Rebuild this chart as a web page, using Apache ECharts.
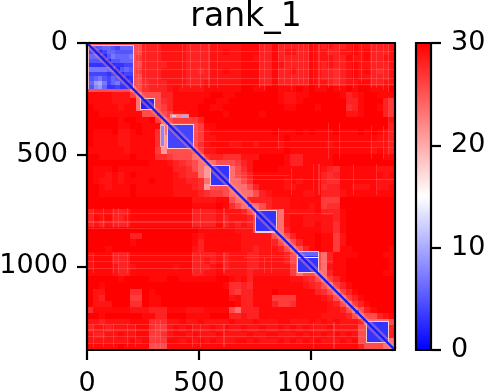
<!DOCTYPE html>
<html><head><meta charset="utf-8">
<style>html,body{margin:0;padding:0;background:#fff}#c{width:490px;height:392px}</style>
<script src="https://cdn.jsdelivr.net/npm/echarts@6/dist/echarts.min.js"></script>
</head><body><div id="c"></div>
<script>
const chartTitle = 'rank_1';
const residueCount = 1375;
const cellSize = 27.5;
const tickValues = [0, 500, 1000];
const colorbarTicks = [0, 10, 20, 30];
// Error read for each digit used in paeRows
const errorLevels = [30, 29.5, 28.8, 28, 27.3, 26.5, 25.5, 23.5, 21];
const paeRows = [
'66666 66663 33222 23333 22222 11133 13333 31232 33212 23332',
'66666 66663 33222 23333 22122 11133 13223 31223 32212 13332',
'66666 66653 33222 23333 22222 11233 13333 31222 33122 13322',
'66666 66663 33322 23333 22222 11133 12333 31232 33212 23332',
'66666 66653 33222 23343 22122 11133 13323 31233 43212 13432',
'66666 66663 33222 23333 22222 11133 13333 31233 43212 23332',
'66666 66664 33322 23332 22222 11133 13333 31223 43221 13322',
'66666 66764 33321 22221 11111 00110 01110 10110 11010 01110',
'11112 22576 66331 11111 00110 00000 01221 10000 01321 00111',
'11112 22176 66431 11110 01100 00000 01221 00000 00331 00035',
'01111 21176 66531 11100 11000 00000 00110 00100 00431 00135',
'00111 11116 66652 21100 00100 00010 00000 00000 00221 00035',
'00000 10011 05765 55530 00000 00000 00000 00000 00000 00002',
'00000 11001 11776 66651 10000 00000 00000 00000 00000 00003',
'01110 22101 14766 66652 11111 11111 01110 10111 01110 10123',
'01111 22111 14866 66652 21111 11111 11011 11111 11111 11223',
'01111 22111 14866 66642 11122 11211 12111 11112 11111 12223',
'11111 12111 15866 66652 21111 11111 11011 11111 11111 12123',
'00111 11011 14456 66774 33444 22200 00133 11111 00000 00011',
'00000 00000 11123 45677 76665 32000 00133 11111 00000 00000',
'01110 11111 11113 34678 66676 42000 01111 11123 41111 11222',
'01121 21011 11112 34478 66676 53111 11111 11134 31111 11121',
'01221 21111 01112 23347 66677 64111 11212 11134 41111 11222',
'00121 11011 11112 22348 66677 76311 11221 11143 31122 21221',
'00111 11011 11112 22234 55677 77632 11111 22133 32111 11111',
'00000 00000 00000 00222 21167 73333 22211 11155 50000 00000',
'00000 00000 00000 00111 10146 77763 22211 12154 40000 00000',
'32223 33111 11111 11333 32222 36766 67222 22133 31000 00000',
'31213 32111 11111 11333 32322 23666 67211 22222 31000 00000',
'32323 33111 11111 11333 31323 23666 67211 22122 41000 00000',
'00000 00000 00000 00011 11112 22666 67311 11122 41000 00000',
'00000 00330 00000 00121 11111 22222 67631 11011 52000 00000',
'00000 00100 00000 00131 11111 22222 36763 11011 52000 00000',
'00010 00000 00000 00231 11111 22322 23676 31011 51100 00001',
'21113 33111 11111 11333 32322 23322 22367 66673 11110 00011',
'21113 33111 11111 11332 32322 23322 22367 66673 11000 00001',
'21112 33211 11112 11333 21322 23322 22257 66672 11000 00001',
'11112 33111 11111 11332 21222 23222 22257 66773 11000 00011',
'00000 10000 11100 11111 10012 13111 11122 34675 31000 00000',
'00100 00000 00000 00000 00144 34111 11111 23467 53100 00000',
'02200 00440 10000 00000 00045 33111 01111 11346 75310 00000',
'02300 00550 11000 00000 00021 33111 55551 11123 67531 00000',
'02220 00440 11000 00000 00001 33111 35541 11112 36753 10000',
'41111 11222 33311 12221 11167 33311 11111 11112 23676 31000',
'00100 00001 13300 01111 00033 23311 11111 11122 22367 66321',
'22322 22111 44422 12212 22212 22122 21122 21212 12223 77776',
'32232 22211 45521 21222 12122 12212 21212 12221 22226 66663',
'23322 12211 55421 12122 21222 21221 12221 21212 12126 66663',
'22222 22121 55511 21212 12221 12122 21212 12122 21216 66667',
'11111 01111 66611 11111 11111 11111 11111 11111 11113 66677'
];
// Thin pale streaks: [column, rowFrom, rowTo]
const paleColumns = [
[229,0,200],[259,0,200],[311,0,200],[423,0,200],[460,0,200],[504,0,200],[542,0,200],[579,0,200],
[769,0,200],[789,0,210],[851,0,190],[881,0,190],[911,0,210],[940,0,190],[963,0,190],[985,0,190],[1007,0,190],
[1033,0,200],[1074,0,200],[1126,0,210],[1186,0,200],[1223,0,180],[1268,0,200],[1290,0,200],[1320,0,210],[1342,0,220],
[851,380,480],[1074,360,520],[1126,360,520],[1268,370,520],[1320,370,520],[1342,240,500],
[911,560,680],[1007,540,660],[1033,540,680],[1186,540,680],[1290,540,680],
[28,740,830],[73,740,830],[117,740,830],[140,740,830],[177,740,830],[467,740,830],[504,740,830],[609,740,830],
[28,940,1030],[117,940,1030],[140,940,1030],[177,940,1030],[467,940,1030],[504,940,1030],[609,940,1030],
[28,1260,1360],[73,1260,1360],[117,1260,1360],[177,1260,1360],[214,1260,1360],[303,1240,1370],[326,1240,1370],[467,1260,1360],[504,1260,1360],[609,1260,1360],
[820,760,1030],[790,960,1030],[1100,1250,1370],[1007,1250,1370]
];
// Thin pale streaks: [row, columnFrom, columnTo]
const paleRows = [
[36,220,1375],[80,220,1375],[118,220,1375],[155,220,1375],[185,220,1375],
[393,480,1375],[437,480,1375],[467,480,1375],[610,640,1375],[590,650,900],
[762,0,740],[799,0,740],[829,0,740],[948,0,930],[978,0,930],[1007,0,930],
[1260,0,1240],[1283,0,1240],[1312,0,1240],[1342,0,1240],[762,860,1100],[975,1040,1100],[960,700,930]
];
// Pale rims, then the low-error domains: [fromX, toX, fromY, toY, error]
const domainRims = [
[5,209,7,205,18],[235,305,245,300,18],[355,478,361,474,18],[548,639,548,639,18],
[749,849,749,849,18],[937,1036,933,1032,18],[1245,1349,1245,1345,18],
[325,347,365,466,20],[370,455,318,336,22]
];
const domains = [
[240,300,250,295,2],[360,473,366,469,4],[553,634,553,634,3],
[754,844,754,844,3],[942,1031,938,1027,3],[1250,1344,1250,1340,3],
[330,342,372,460,8],[378,398,322,332,12],[425,450,322,332,10],
[942,1031,960,964,14],[942,1031,938,956,6],
[314,328,314,328,2],[720,735,720,735,3],[1197,1214,1197,1214,2]
];
// First domain is mottled, read on its own finer grid
const firstDomainRows = [
[5,4,5,6,6,5,4,6,6,6],
[4,4,2,4,6,6,5,5,5,5],
[6,6,5,2,5,7,6,6,6,7],
[5,5,5,4,2,5,5,6,6,6],
[3,3,3,3,3,2,3,3,4,4],
[7,7,7,7,6,6,2,5,6,5],
[4,4,4,4,3,4,3,2,4,4],
[5,6,7,5,4,6,5,4,2,3],
[6,9,10,7,4,6,7,4,3,2],
[5,8,9,6,3,3,4,3,3,2]
];
const firstDomainStart = [10, 12];
const firstDomainCell = 19.5;
const diagonal = [[0,0],[residueCount,residueCount]];

const cells = [];
paeRows.forEach((row,r)=>{
  row.replace(/ /g,'').split('').forEach((d,c)=>{
    cells.push([c*cellSize,(c+1)*cellSize,r*cellSize,(r+1)*cellSize,errorLevels[Number(d)]]);
  });
});
const streaks = [
  ...paleColumns.map(s=>[s[0],s[0]+5,s[1],s[2],22]),
  ...paleRows.map(s=>[s[1],s[2],s[0],s[0]+5,22])
];
const firstCells = [];
firstDomainRows.forEach((row,r)=>row.forEach((v,c)=>{
  firstCells.push([firstDomainStart[0]+c*firstDomainCell,firstDomainStart[0]+(c+1)*firstDomainCell,
                   firstDomainStart[1]+r*firstDomainCell,firstDomainStart[1]+(r+1)*firstDomainCell,v]);
}));
function painter(opacity){
  return function(p,api){
    const a=api.coord([api.value(0),api.value(2)]), b=api.coord([api.value(1),api.value(3)]);
    const x0=Math.round(Math.min(a[0],b[0])),x1=Math.round(Math.max(a[0],b[0]));
    const y0=Math.round(Math.min(a[1],b[1])),y1=Math.round(Math.max(a[1],b[1]));
    return {type:'rect',shape:{x:x0,y:y0,width:Math.max(1,x1-x0),height:Math.max(1,y1-y0)},
      style:{fill:api.visual('color'),opacity:opacity}};
  };
}
function rects(data,opacity){
  return {type:'custom',xAxisIndex:0,yAxisIndex:0,renderItem:painter(opacity),data:data,
    encode:{x:[0,1],y:[2,3]},clip:true,silent:true,animation:false,progressive:0,z:2};
}
const font='"DejaVu Sans"';
const black={color:'#000',width:2.2};
const plain=v=>String(v);
const plotGrid={left:87,top:43,width:308,height:307,outerBoundsMode:'none'};
const barGrid={left:416,top:43,width:15,height:307,outerBoundsMode:'none'};
const chart=echarts.init(document.getElementById('c'),null,{renderer:'canvas'});
chart.setOption({
  animation:false,backgroundColor:'#fff',
  title:{text:chartTitle,left:241,top:-4,textAlign:'center',
    textStyle:{fontFamily:font,fontSize:33,fontWeight:'normal',color:'#000'}},
  grid:[plotGrid,barGrid],
  xAxis:[
    {type:'value',gridIndex:0,min:0,max:residueCount,position:'bottom',z:10,splitLine:{show:false},
     axisLine:{show:true,onZero:false,lineStyle:black},
     axisTick:{show:true,length:10,lineStyle:black,customValues:tickValues},
     axisLabel:{fontFamily:font,fontSize:27,color:'#000',margin:20,customValues:tickValues,formatter:plain}},
    {type:'value',gridIndex:0,min:0,max:residueCount,position:'top',z:10,splitLine:{show:false},
     axisLine:{show:true,onZero:false,lineStyle:black},axisTick:{show:false},axisLabel:{show:false}},
    {type:'value',gridIndex:1,min:0,max:1,position:'bottom',z:10,splitLine:{show:false},
     axisLine:{show:true,onZero:false,lineStyle:black},axisTick:{show:false},axisLabel:{show:false}},
    {type:'value',gridIndex:1,min:0,max:1,position:'top',z:10,splitLine:{show:false},
     axisLine:{show:true,onZero:false,lineStyle:black},axisTick:{show:false},axisLabel:{show:false}}
  ],
  yAxis:[
    {type:'value',gridIndex:0,min:0,max:residueCount,inverse:true,position:'left',z:10,splitLine:{show:false},
     axisLine:{show:true,onZero:false,lineStyle:black},
     axisTick:{show:true,length:10,lineStyle:black,customValues:tickValues},
     axisLabel:{fontFamily:font,fontSize:27,color:'#000',margin:19,customValues:tickValues,formatter:plain,padding:[5,0,0,0]}},
    {type:'value',gridIndex:0,min:0,max:residueCount,inverse:true,position:'right',z:10,splitLine:{show:false},
     axisLine:{show:true,onZero:false,lineStyle:black},axisTick:{show:false},axisLabel:{show:false}},
    {type:'value',gridIndex:1,min:0,max:30,position:'right',z:10,splitLine:{show:false},
     axisLine:{show:true,onZero:false,lineStyle:black},
     axisTick:{show:true,length:10,lineStyle:black,customValues:colorbarTicks},
     axisLabel:{fontFamily:font,fontSize:27,color:'#000',margin:20,customValues:colorbarTicks,formatter:plain,padding:[5,0,0,0]}},
    {type:'value',gridIndex:1,min:0,max:30,position:'left',z:10,splitLine:{show:false},
     axisLine:{show:true,onZero:false,lineStyle:black},axisTick:{show:false},axisLabel:{show:false}}
  ],
  visualMap:{type:'continuous',min:0,max:30,dimension:4,seriesIndex:[0,1,2,3,4],
    inRange:{color:['#0000ff','#ffffff','#ff0000']},
    left:416,top:43,itemWidth:15,itemHeight:307,padding:0,text:null,calculable:false,realtime:false,
    showLabel:false,z:4,hoverLink:false},
  series:[
    rects(cells,1),
    rects(streaks,0.3),
    rects(domainRims,1),
    rects(firstCells,1),
    rects(domains,1),
    {type:'line',data:diagonal,symbol:'none',silent:true,animation:false,z:3,clip:true,
     lineStyle:{color:'#ff9090',width:7,opacity:0.4}},
    {type:'line',data:diagonal,symbol:'none',silent:true,animation:false,z:3,clip:true,
     lineStyle:{color:'#0a1eff',width:2.4}}
  ]
});
</script></body></html>
